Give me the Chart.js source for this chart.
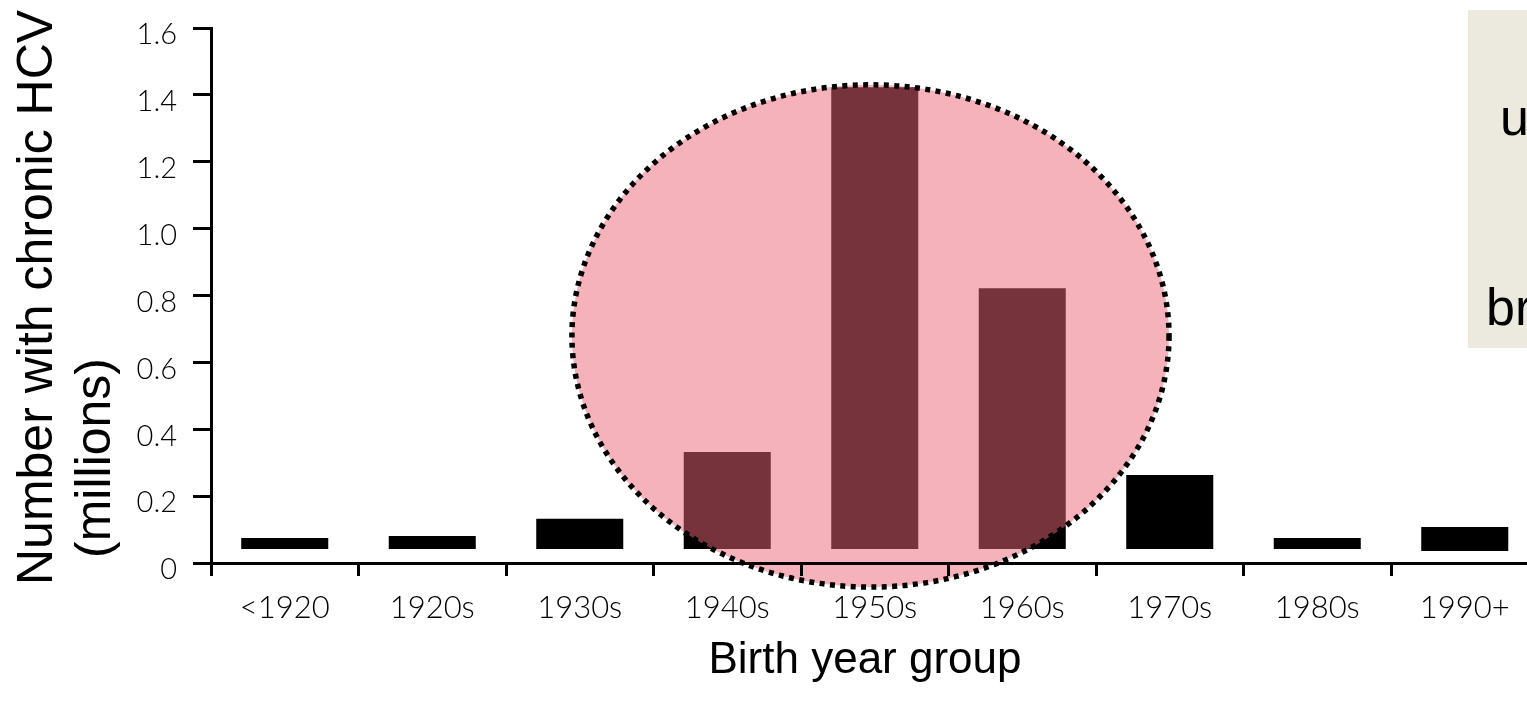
<!DOCTYPE html>
<html>
<head>
<meta charset="utf-8">
<script src="https://cdn.jsdelivr.net/npm/chart.js@4.4.1/dist/chart.umd.min.js"></script>
<style>
  html, body { margin: 0; padding: 0; background: #fff; overflow: hidden; width: 1527px; height: 707px; }
  #wrap { position: absolute; left: 0; top: 0; width: 1545px; height: 707px; }
  #note {
    position: absolute; left: 1468px; top: 10px; width: 160px; height: 338px;
    background: #ECE9DF; color: #000;
    font-family: "Liberation Sans", Arial, sans-serif; font-size: 52px;
  }
  #note span { position: absolute; line-height: 1; white-space: nowrap; }
</style>
</head>
<body>
<div id="wrap"><canvas id="chart" width="1545" height="707" style="width:1545px;height:707px"></canvas></div>
<div id="note"><span style="left:32px;top:81px">u</span><span style="left:18px;top:271px">br</span></div>
<script>
// Birth-year cohorts and number living with chronic HCV (millions)
const categories = ['<1920', '1920s', '1930s', '1940s', '1950s', '1960s', '1970s', '1980s', '1990+'];
const chronicHCV = [0.075, 0.081, 0.132, 0.332, 1.423, 0.822, 0.263, 0.075, 0.108];
const barBase    = [0.042, 0.042, 0.042, 0.042, 0.042, 0.042, 0.042, 0.042, 0.036];
const yTickLabels = ['0', '0.2', '0.4', '0.6', '0.8', '1.0', '1.2', '1.4', '1.6'];

// Highlighted cohort region (1945-1965), in scale units
const highlightCenterIndex = 3.971;
const highlightHalfWidth = 2.024;   // categories
const highlightCenterValue = 0.679;
const highlightHalfHeight = 0.751;  // millions

const yTitleLines = ['Number with chronic HCV', '(millions)'];
const xTitle = 'Birth year group';

const tickFont = { family: 'Lato', weight: '300' };

function highlightPath(chart) {
  const { x, y } = chart.scales;
  const cx = x.getPixelForValue(highlightCenterIndex);
  const rx = x.getPixelForValue(highlightCenterIndex + highlightHalfWidth) - cx;
  const cy = y.getPixelForValue(highlightCenterValue);
  const ry = cy - y.getPixelForValue(highlightCenterValue + highlightHalfHeight);
  const ctx = chart.ctx;
  ctx.beginPath();
  ctx.ellipse(cx, cy, rx, ry, 0, 0, Math.PI * 2);
}

const cohortHighlight = {
  id: 'cohortHighlight',
  afterDatasetsDraw(chart) {
    const ctx = chart.ctx;
    ctx.save();
    highlightPath(chart);
    ctx.fillStyle = 'rgba(236, 102, 118, 0.5)';
    ctx.fill();
    ctx.restore();
  },
  afterDraw(chart) {
    const ctx = chart.ctx;
    ctx.save();
    highlightPath(chart);
    ctx.setLineDash([5, 5.4]);
    ctx.lineWidth = 5.5;
    ctx.strokeStyle = '#000';
    ctx.stroke();
    ctx.restore();

    // axis titles
    const area = chart.chartArea;
    ctx.save();
    ctx.fillStyle = '#000';
    ctx.font = '50px "Liberation Sans", Arial, sans-serif';
    ctx.textAlign = 'left';
    ctx.textBaseline = 'alphabetic';
    ctx.translate(52, area.bottom + 22);
    ctx.rotate(-Math.PI / 2);
    ctx.fillText(yTitleLines[0], 0, 0);
    ctx.restore();
    ctx.save();
    ctx.fillStyle = '#000';
    ctx.font = '50px "Liberation Sans", Arial, sans-serif';
    ctx.textAlign = 'left';
    ctx.translate(110, area.bottom - 5);
    ctx.rotate(-Math.PI / 2);
    ctx.fillText(yTitleLines[1], 0, 0);
    ctx.restore();

    ctx.save();
    ctx.fillStyle = '#000';
    ctx.font = '44px "Liberation Sans", Arial, sans-serif';
    ctx.textAlign = 'center';
    ctx.textBaseline = 'alphabetic';
    ctx.fillText(xTitle, 865, 673);
    ctx.restore();
  }
};

new Chart(document.getElementById('chart'), {
  type: 'bar',
  data: {
    labels: categories,
    datasets: [{
      data: chronicHCV.map((v, i) => [barBase[i], v]),
      backgroundColor: '#000',
      borderWidth: 0,
      categoryPercentage: 1,
      barPercentage: 0.59
    }]
  },
  options: {
    responsive: false,
    animation: false,
    devicePixelRatio: 1,
    layout: { padding: { top: 28, right: 6.5, bottom: 0, left: 0 } },
    plugins: { legend: { display: false }, tooltip: { enabled: false } },
    scales: {
      x: {
        grid: { display: true, offset: true, drawOnChartArea: false, drawTicks: true, tickLength: 13, color: '#000', lineWidth: 3, z: 1 },
        border: { display: true, color: '#000', width: 3, z: 1 },
        ticks: { font: { ...tickFont, size: 31 }, color: '#000', padding: 13, maxRotation: 0, autoSkip: false },
        afterFit(scale) { scale.height = 144; scale.paddingLeft = 0; scale.paddingRight = 0; }
      },
      y: {
        min: 0, max: 1.6,
        grid: { display: true, drawOnChartArea: false, drawTicks: true, tickLength: 18, color: '#000', lineWidth: 3, z: 1 },
        border: { display: true, color: '#000', width: 3, z: 1 },
        ticks: {
          stepSize: 0.2,
          callback: (v, i) => yTickLabels[i],
          font: { ...tickFont, size: 29 }, color: '#000', padding: 16, labelOffset: 7
        },
        afterFit(scale) { scale.width = 211; scale.paddingTop = 0; scale.paddingBottom = 0; }
      }
    }
  },
  plugins: [cohortHighlight]
});
</script>
</body>
</html>
